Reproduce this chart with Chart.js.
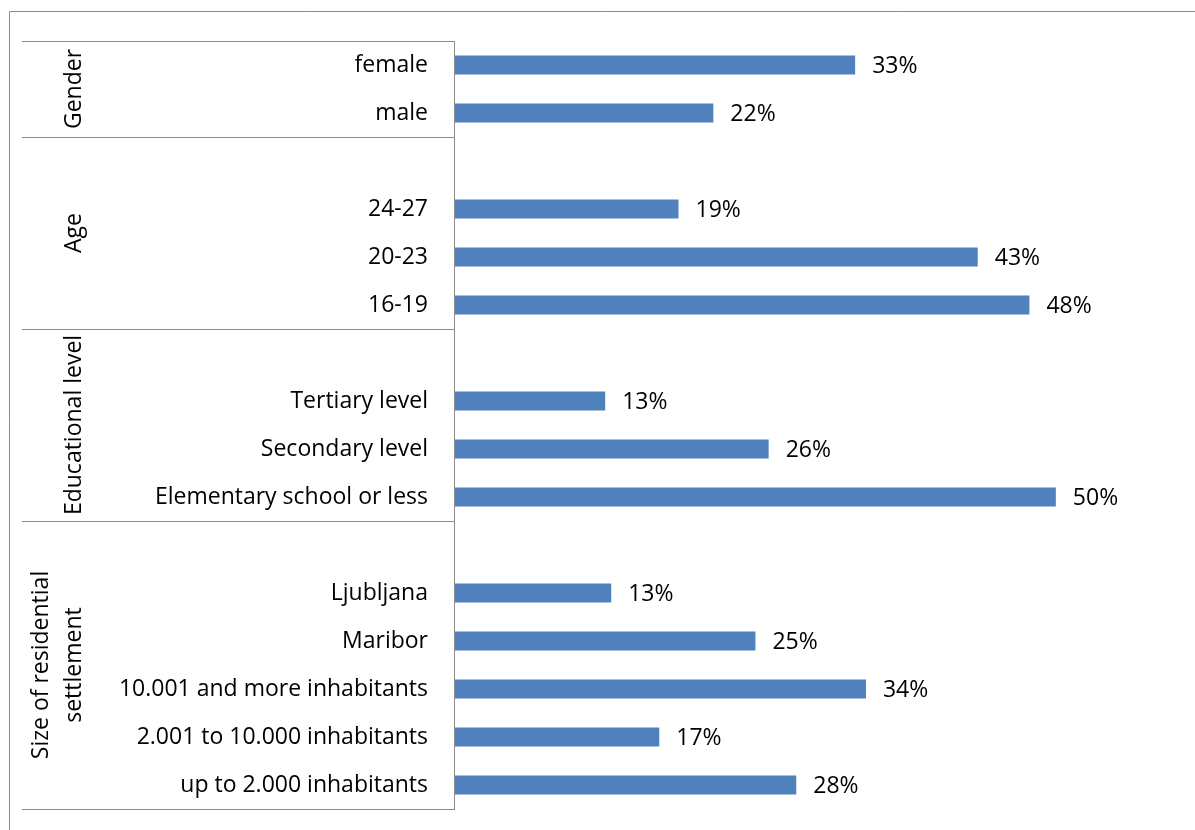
<!DOCTYPE html>
<html>
<head>
<meta charset="utf-8">
<script src="https://cdn.jsdelivr.net/npm/chart.js@4.4.1/dist/chart.umd.min.js"></script>
<style>
  html, body { margin: 0; padding: 0; background: #fff; }
  #wrap { width: 1195px; height: 830px; position: relative; }
</style>
</head>
<body>
<div id="wrap"><canvas id="myChart"></canvas></div>
<script>
// categorias (linhas vazias separam os grupos)
const categorias = [
  'female', 'male', '',
  '24-27', '20-23', '16-19', '',
  'Tertiary level', 'Secondary level', 'Elementary school or less', '',
  'Ljubljana', 'Maribor', '10.001 and more inhabitants', '2.001 to 10.000 inhabitants', 'up to 2.000 inhabitants'
];
// comprimento das barras
const valores = [
  33.3, 21.5, null,
  18.6, 43.5, 47.8, null,
  12.5, 26.1, 50, null,
  13, 25, 34.2, 17, 28.4
];
// rotulos impressos nas barras
const rotulos = [
  '33%', '22%', '',
  '19%', '43%', '48%', '',
  '13%', '26%', '50%', '',
  '13%', '25%', '34%', '17%', '28%'
];
// grupos: nome (linhas) e ultima linha do grupo
const grupos = [
  { nome: ['Gender'], ate: 1 },
  { nome: ['Age'], ate: 5 },
  { nome: ['Educational level'], ate: 9 },
  { nome: ['Size of residential', 'settlement'], ate: 15 }
];

const FONTE = '"Open Sans", "Noto Sans", sans-serif';
const TAM = 23;
const CINZA = '#8c8c8c';

const pluginMoldura = {
  id: 'moldura',
  afterDraw(chart) {
    const ctx = chart.ctx;
    const area = chart.chartArea;
    const y = chart.scales.y;
    const passo = (area.bottom - area.top) / categorias.length;
    ctx.save();
    ctx.strokeStyle = CINZA;
    ctx.lineWidth = 1;
    // borda externa
    ctx.beginPath();
    ctx.moveTo(9.5, 830);
    ctx.lineTo(9.5, 11.5);
    ctx.lineTo(1195, 11.5);
    ctx.stroke();
    // eixo vertical
    ctx.beginPath();
    ctx.moveTo(Math.round(area.left) - 0.5, area.top);
    ctx.lineTo(Math.round(area.left) - 0.5, area.bottom);
    ctx.stroke();
    // separadores dos grupos
    const limites = [area.top];
    grupos.forEach(g => limites.push(y.getPixelForValue(g.ate) + passo / 2));
    limites.forEach(ly => {
      const yy = Math.round(ly) + 0.5;
      ctx.beginPath();
      ctx.moveTo(22, yy);
      ctx.lineTo(Math.round(area.left), yy);
      ctx.stroke();
    });
    // nomes dos grupos (verticais)
    ctx.fillStyle = '#000';
    ctx.font = TAM + 'px ' + FONTE;
    ctx.textAlign = 'center';
    ctx.textBaseline = 'middle';
    grupos.forEach((g, i) => {
      const cy = (limites[i] + limites[i + 1]) / 2;
      const n = g.nome.length;
      g.nome.forEach((linha, k) => {
        const cx = 74 - (n - 1 - k) * 33;
        ctx.save();
        ctx.translate(cx, cy);
        ctx.rotate(-Math.PI / 2);
        ctx.fillText(linha, 0, 0);
        ctx.restore();
      });
    });
    ctx.restore();
  },
  afterDatasetsDraw(chart) {
    const ctx = chart.ctx;
    const meta = chart.getDatasetMeta(0);
    ctx.save();
    ctx.fillStyle = '#000';
    ctx.font = TAM + 'px ' + FONTE;
    ctx.textAlign = 'left';
    ctx.textBaseline = 'middle';
    meta.data.forEach((bar, i) => {
      if (valores[i] == null) return;
      ctx.fillText(rotulos[i], bar.x + 17, bar.y + 1);
    });
    ctx.restore();
  }
};

const ctx = document.getElementById('myChart').getContext('2d');
const chart = new Chart(ctx, {
  type: 'bar',
  data: {
    labels: categorias,
    datasets: [{
      data: valores,
      backgroundColor: '#4f81bd',
      borderWidth: 0,
      barPercentage: 0.4,
      categoryPercentage: 1
    }]
  },
  options: {
    indexAxis: 'y',
    responsive: true,
    maintainAspectRatio: false,
    animation: false,
    layout: { padding: { top: 41, bottom: 21, right: 19, left: 0 } },
    plugins: { legend: { display: false }, tooltip: { enabled: false } },
    scales: {
      x: { display: false, min: 0, max: 60 },
      y: {
        grid: { display: false, drawTicks: false },
        border: { display: false },
        ticks: {
          color: '#000',
          padding: 27,
          autoSkip: false,
          font: { family: FONTE, size: TAM }
        },
        afterFit(scale) {
          scale.width = 455;
          scale.paddingTop = 0;
          scale.paddingBottom = 0;
        }
      }
    }
  },
  plugins: [pluginMoldura]
});
</script>
</body>
</html>
